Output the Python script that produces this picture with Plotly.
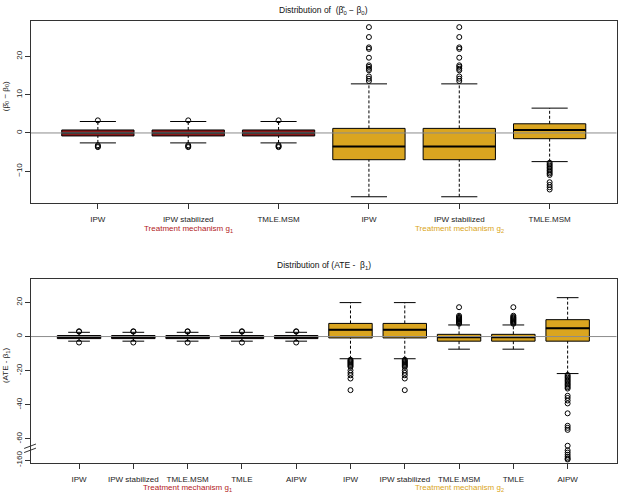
import plotly.graph_objects as go
from plotly.subplots import make_subplots

# ---------------- data ----------------
top_labels = ["IPW", "IPW stabilized", "TMLE.MSM", "IPW", "IPW stabilized", "TMLE.MSM"]
bot_labels = ["IPW", "IPW stabilized", "TMLE.MSM", "TMLE", "AIPW",
              "IPW", "IPW stabilized", "TMLE.MSM", "TMLE", "AIPW"]

# top panel, treatment mechanism g1 (positions 1-3)
top_g1_q1 = [-0.78, -0.78, -0.78]
top_g1_med = [0.0, 0.0, 0.0]
top_g1_q3 = [0.78, 0.78, 0.78]
top_g1_lo = [-2.6, -2.6, -2.6]
top_g1_hi = [3.0, 3.0, 3.0]
top_g1_out = [[3.3, -3.2, -3.5, -3.7], [3.3, -3.2, -3.5, -3.7], [3.3, -3.2, -3.5, -3.7]]

# top panel, treatment mechanism g2 (positions 4-6)
top_g2_q1 = [-7.0, -7.0, -1.5]
top_g2_med = [-3.55, -3.55, 0.8]
top_g2_q3 = [1.2, 1.2, 2.4]
top_g2_lo = [-16.7, -16.7, -7.5]
top_g2_hi = [12.85, 12.85, 6.5]
top_g2_out = [
    [13.6, 14.2, 14.8, 16.4, 16.8, 17.3, 17.7, 19.7, 22.0, 22.4, 25.1, 27.7],
    [13.6, 14.2, 14.8, 16.4, 16.8, 17.3, 17.7, 19.7, 22.0, 22.4, 25.1, 27.7],
    [-7.8, -8.2, -8.6, -9.0, -9.4, -9.8, -10.2, -10.6, -11.0, -12.9, -13.6, -14.2, -14.8],
]

# bottom panel, g1 (positions 1-5)
bot_g1_q1 = [-1.2, -1.2, -1.2, -1.2, -1.2]
bot_g1_med = [-0.3, -0.3, -0.3, -0.3, -0.3]
bot_g1_q3 = [0.6, 0.6, 0.6, 0.6, 0.6]
bot_g1_lo = [-2.7, -2.7, -2.7, -2.7, -2.7]
bot_g1_hi = [2.5, 2.5, 2.5, 2.5, 2.5]
bot_g1_out = [[2.9, 3.1, -3.5], [2.9, 3.1, -3.5], [2.9, 3.1, -3.5], [2.9, 3.1, -3.5], [2.9, 3.1, -3.5]]

# bottom panel, g2 (positions 6-10)
bot_g2_q1 = [-0.8, -0.8, -2.7, -2.7, -2.7]
bot_g2_med = [4.0, 4.0, -0.4, -0.4, 4.8]
bot_g2_q3 = [7.7, 7.7, 1.3, 1.3, 9.9]
bot_g2_lo = [-13.0, -13.0, -7.4, -7.4, -21.7]
bot_g2_hi = [19.9, 19.9, 6.8, 6.8, 22.8]
bot_g2_out = [
    [-13.6, -14.2, -14.8, -15.4, -16.0, -16.6, -17.2, -17.8, -19.8, -21.3, -22.7, -24.6, -31.4],
    [-13.6, -14.2, -14.8, -15.4, -16.0, -16.6, -17.2, -17.8, -19.8, -21.3, -22.7, -24.6, -31.4],
    [7.5, 8.0, 8.5, 9.0, 9.5, 10.0, 10.5, 11.0, 11.5, 12.2, 17.2],
    [7.5, 8.0, 8.5, 9.0, 9.5, 10.0, 10.5, 11.0, 11.5, 12.2, 17.2],
    [-22.5, -23.3, -24.1, -24.9, -25.7, -26.5, -27.3, -28.1, -28.9, -29.7, -30.5,
     -34.7, -36.0, -37.5, -39.2, -45.0, -52.3, -53.5, -54.7, -64.0,
     -154.2, -155.5, -156.8, -158.0, -159.0, -159.6],
]

# broken axis in bottom panel: values below GAP_LIMIT are shifted up by GAP_SHIFT
GAP_LIMIT = -100
GAP_SHIFT = 87.5
bot_ticks = [20, 0, -20, -40, -60, -160]

G1_FILL = "#8B1A1A"
G2_FILL = "#DAA520"
G1_TEXT = "#B22222"
G2_TEXT = "#DAA520"
FONT = "Liberation Sans, Arial, sans-serif"


def gap(v):
    return v + GAP_SHIFT if v < GAP_LIMIT else v


fig = make_subplots(rows=2, cols=1)


def add_group(row, xs, q1, med, q3, lo, hi, outs, fill, transform=lambda v: v):
    q1t = [transform(v) for v in q1]
    q3t = [transform(v) for v in q3]
    medt = [transform(v) for v in med]
    lot = [transform(v) for v in lo]
    hit = [transform(v) for v in hi]
    fig.add_trace(go.Box(x=xs, q1=q1t, median=medt, q3=q3t, lowerfence=q1t, upperfence=q3t,
                         width=0.8, fillcolor=fill, line=dict(color="black", width=1),
                         whiskerwidth=0, boxpoints=False, hoverinfo="skip", showlegend=False),
                  row=row, col=1)
    wx, wy = [], []
    cx, cy = [], []
    mx, my = [], []
    for x, a, b, c, d, m in zip(xs, lot, q1t, q3t, hit, medt):
        wx += [x, x, None, x, x, None]
        wy += [a, b, None, c, d, None]
        cx += [x - 0.2, x + 0.2, None, x - 0.2, x + 0.2, None]
        cy += [a, a, None, d, d, None]
        mx += [x - 0.4, x + 0.4, None]
        my += [m, m, None]
    fig.add_trace(go.Scatter(x=wx, y=wy, mode="lines", line=dict(color="black", width=1, dash="3px,2px"),
                             hoverinfo="skip", showlegend=False), row=row, col=1)
    fig.add_trace(go.Scatter(x=cx, y=cy, mode="lines", line=dict(color="black", width=1),
                             hoverinfo="skip", showlegend=False), row=row, col=1)
    fig.add_trace(go.Scatter(x=mx, y=my, mode="lines", line=dict(color="black", width=2),
                             hoverinfo="skip", showlegend=False), row=row, col=1)
    ox, oy = [], []
    for x, vals in zip(xs, outs):
        for v in vals:
            ox.append(x)
            oy.append(transform(v))
    fig.add_trace(go.Scatter(x=ox, y=oy, mode="markers",
                             marker=dict(symbol="circle-open", size=5, color="black", line=dict(width=1)),
                             hoverinfo="skip", showlegend=False), row=row, col=1)


n_top = len(top_labels)
n_bot = len(bot_labels)
top_pos = list(range(1, n_top + 1))
bot_pos = list(range(1, n_bot + 1))

add_group(1, top_pos[:3], top_g1_q1, top_g1_med, top_g1_q3, top_g1_lo, top_g1_hi, top_g1_out, G1_FILL)
add_group(1, top_pos[3:], top_g2_q1, top_g2_med, top_g2_q3, top_g2_lo, top_g2_hi, top_g2_out, G2_FILL)
add_group(2, bot_pos[:5], bot_g1_q1, bot_g1_med, bot_g1_q3, bot_g1_lo, bot_g1_hi, bot_g1_out, G1_FILL, gap)
add_group(2, bot_pos[5:], bot_g2_q1, bot_g2_med, bot_g2_q3, bot_g2_lo, bot_g2_hi, bot_g2_out, G2_FILL, gap)

axis_common = dict(showline=True, mirror=True, linecolor="#333", linewidth=1, ticks="outside",
                   ticklen=5, tickcolor="#333", showgrid=False, zeroline=False,
                   tickfont=dict(family=FONT, size=8, color="#222"))

x0d, x1d = 31 / 621, 616.5 / 621
fig.update_layout(
    width=621, height=504, margin=dict(l=0, r=0, t=0, b=0),
    paper_bgcolor="white", plot_bgcolor="white", boxmode="overlay",
    font=dict(family=FONT, size=8, color="#222"),
    xaxis=dict(domain=[x0d, x1d], range=[0.26, 6.74], tickvals=top_pos, ticktext=top_labels,
               ticklabelstandoff=4, **axis_common),
    yaxis=dict(domain=[1 - 204.5 / 504, 1 - 21 / 504], range=[-18.3, 29.35],
               tickvals=[-10, 0, 10, 20], tickangle=-90, **axis_common),
    xaxis2=dict(domain=[x0d, x1d], range=[0.115, 10.9], tickvals=bot_pos, ticktext=bot_labels,
                ticklabelstandoff=4, **axis_common),
    yaxis2=dict(domain=[1 - 466.5 / 504, 1 - 281.3 / 504], range=[-74, 33.7],
                tickvals=[gap(v) for v in bot_ticks], ticktext=[str(v) for v in bot_ticks],
                tickangle=-90, **axis_common),
)

# zero reference lines
for xr, yr in (("x domain", "y"), ("x2 domain", "y2")):
    fig.add_shape(type="line", xref=xr, yref=yr, x0=0, x1=1, y0=0, y1=0,
                  line=dict(color="#8c8c8c", width=1), layer="above")

# axis break marks
brk = -65.5
for dy in (-1.2, 1.2):
    fig.add_shape(type="line", xref="paper", yref="y2",
                  x0=x0d - 0.011, x1=x0d + 0.008, y0=brk + dy - 1.3, y1=brk + dy + 1.3,
                  line=dict(color="#333", width=1))


def label(text, x, y, xref="paper", color="#222", size=8, angle=0):
    fig.add_annotation(text=text, xref=xref, yref="paper", x=x, y=y, xanchor="center",
                       yanchor="middle", showarrow=False, textangle=angle,
                       font=dict(family=FONT, size=size, color=color))


# titles
label("Distribution of  (β\u0302<sub>0</sub> − β<sub>0</sub>)", (x0d + x1d) / 2, 1 - 11 / 504, size=8.5, color="#111")
label("Distribution of (ATE -  β<sub>1</sub>)", (x0d + x1d) / 2, 1 - 268 / 504, size=8.5, color="#111")
label("(β\u0302<sub>0</sub> − β<sub>0</sub>)", 6 / 621, 1 - 97 / 504, angle=-90)
label("(ATE - β<sub>1</sub>)", 6 / 621, 1 - 369 / 504, angle=-90)

# group labels
label("Treatment mechanism g<sub>1</sub>", top_pos[1], 1 - 231 / 504, xref="x", color=G1_TEXT)
label("Treatment mechanism g<sub>2</sub>", top_pos[4], 1 - 231 / 504, xref="x", color=G2_TEXT)
label("Treatment mechanism g<sub>1</sub>", bot_pos[2], 1 - 492 / 504, xref="x2", color=G1_TEXT)
label("Treatment mechanism g<sub>2</sub>", bot_pos[7], 1 - 492 / 504, xref="x2", color=G2_TEXT)

fig.write_html("out.html")
